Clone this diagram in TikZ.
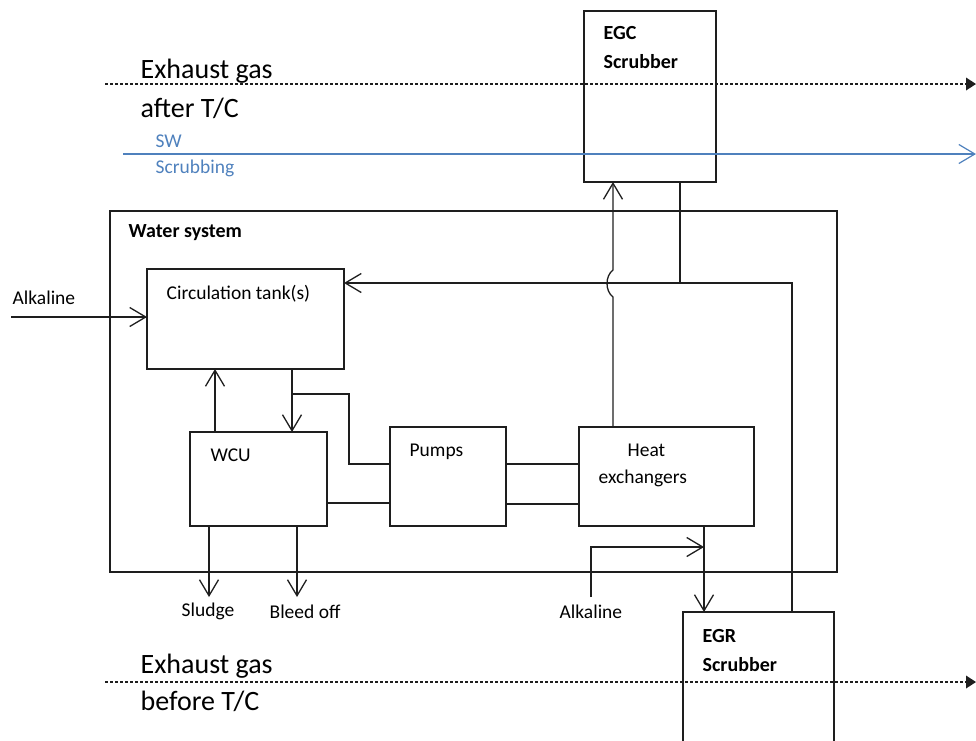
\documentclass[tikz,border=0pt]{standalone}
\usepackage{fontspec}
\setmainfont{Carlito}
\usetikzlibrary{arrows.meta,calc}
\definecolor{swblue}{RGB}{79,129,189}
\definecolor{ln}{RGB}{30,30,30}
\begin{document}
\begin{tikzpicture}[x=1pt,y=-1pt,line width=1.3pt,draw=ln,
 box/.style={draw=ln,line width=1.3pt,inner sep=0pt,outer sep=0pt,anchor=north west},
 lbl/.style={anchor=base west,inner sep=0pt,font=\fontsize{19.5}{22}\selectfont},
 big/.style={anchor=base west,inner sep=0pt,font=\fontsize{28}{32}\selectfont},
 bld/.style={anchor=base west,inner sep=0pt,font=\fontsize{20}{24}\selectfont\bfseries},
 arr/.style={-{Straight Barb[length=16pt,width=19pt,line width=1.3pt]}},
 gas/.style={densely dashed,line width=1.3pt,-{Triangle[length=10pt,width=13pt,line width=0pt]}},
]
\useasboundingbox (0,0) rectangle (976,740);
\clip (0,0) rectangle (976,740);
% boxes
\node[box,minimum width=727pt,minimum height=361pt] (water) at (110,211) {};
\node[box,minimum width=132pt,minimum height=171pt] (egc) at (584,11) {};
\node[box,minimum width=197pt,minimum height=100pt] (tank) at (147,269) {};
\node[box,minimum width=137pt,minimum height=94pt] (wcu) at (190,432) {};
\node[box,minimum width=116pt,minimum height=99pt] (pumps) at (390,427) {};
\node[box,minimum width=175pt,minimum height=99pt] (hx) at (579,427) {};
\node[box,minimum width=151pt,minimum height=140pt] (egr) at (683,612) {};
% texts
\node[big] (t1) at (140,78) {Exhaust gas};
\node[big] (t2) at (140,117) {after T/C};
\node[lbl,text=swblue] (t3) at (155,147) {SW};
\node[lbl,text=swblue] (t4) at (155,173) {Scrubbing};
\node[bld] (t5) at (603,39) {EGC};
\node[bld] (t6) at (603,68) {Scrubber};
\node[bld] (t7) at (128,237) {Water system};
\node[lbl] (t8) at (166,299) {Circulation tank(s)};
\node[lbl] (t9) at (12,304) {Alkaline};
\node[lbl] (t10) at (210,461) {WCU};
\node[lbl] (t11) at (409,456) {Pumps};
\node[lbl] (t12) at (627,456) {Heat};
\node[lbl] (t13) at (598,483) {exchangers};
\node[lbl] (t14) at (181,616) {Sludge};
\node[lbl] (t15) at (269,618) {Bleed off};
\node[lbl] (t16) at (559,618) {Alkaline};
\node[bld] (t17) at (702,642) {EGR};
\node[bld] (t18) at (702,671) {Scrubber};
\node[big] (t19) at (140,673) {Exhaust gas};
\node[big] (t20) at (140,710) {before T/C};
% coordinates
\coordinate (g1s) at (105,84); \coordinate (g1e) at (976,84);
\coordinate (sws) at (123,154); \coordinate (swe) at (976,154);
\coordinate (g2s) at (105,682); \coordinate (g2e) at (976,682);
\coordinate (alk1) at (11,317);
\coordinate (up) at (215,0);
\coordinate (dn) at (292,0);
\coordinate (br) at (292,394);
\coordinate (brx) at (349,394);
\coordinate (brp) at (349,464);
\coordinate (wp) at (0,503);
\coordinate (ph1) at (0,464);
\coordinate (ph2) at (0,504);
\coordinate (hxv) at (613,0);
\coordinate (hopb) at (613,297);
\coordinate (hopt) at (613,270);
\coordinate (egcr) at (680,0);
\coordinate (ret) at (792,283);
\coordinate (egrin) at (704,0);
\coordinate (alk2) at (591,597);
\coordinate (alk2c) at (591,547);
\coordinate (sl) at (209,597);
\coordinate (bo) at (297,597);
% connectors
\draw[gas] (g1s) -- (g1e);
\draw[gas] (g2s) -- (g2e);
\draw[swblue,line width=1.2pt,-{Straight Barb[length=16pt,width=19pt,line width=1.2pt]}] (sws) -- (swe);
\draw[arr] (alk1) -- (alk1 -| tank.west);
\draw[arr] (up |- wcu.north) -- (up |- tank.south);
\draw[arr] (dn |- tank.south) -- (dn |- wcu.north);
\draw (br) -- (brx) -- (brp) -- (brp -| pumps.west);
\draw (wp -| wcu.east) -- (wp -| pumps.west);
\draw (ph1 -| pumps.east) -- (ph1 -| hx.west);
\draw (ph2 -| pumps.east) -- (ph2 -| hx.west);
\draw[arr] (hxv |- hx.north) -- (hopb) .. controls (605,291) and (605,276) .. (hopt) -- (hxv |- egc.south);
\draw (egcr |- egc.south) -- (egcr |- ret);
\draw[arr] (ret |- egr.north) -- (ret) -- (ret -| tank.east);
\draw[arr] (egrin |- hx.south) -- (egrin |- egr.north);
\draw[arr] (alk2) -- (alk2c) -- (alk2c -| egrin);
\draw[arr] (sl |- wcu.south) -- (sl);
\draw[arr] (bo |- wcu.south) -- (bo);
\end{tikzpicture}
\end{document}
